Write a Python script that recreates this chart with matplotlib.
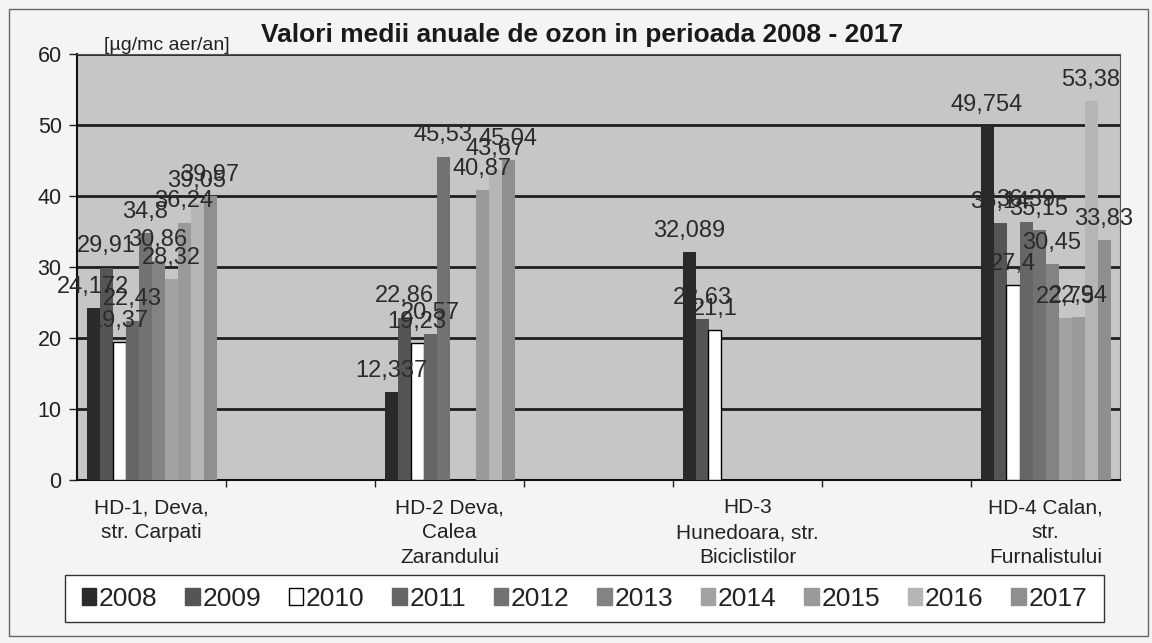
import numpy as np
import matplotlib
matplotlib.use("Agg")
import matplotlib.pyplot as plt
from matplotlib.patches import Patch, Rectangle

plt.rcParams['font.family'] = ['Liberation Sans', 'DejaVu Sans']

# ---- data ----
years = ["2008", "2009", "2010", "2011", "2012", "2013", "2014", "2015", "2016", "2017"]
categories = ["HD-1, Deva,\nstr. Carpati", "",
              "HD-2 Deva,\nCalea\nZarandului", "",
              "HD-3\nHunedoara, str.\nBiciclistilor", "",
              "HD-4 Calan,\nstr.\nFurnalistului"]
hd1 = [24.172, 29.91, 19.37, 22.43, 34.8, 30.86, 28.32, 36.24, 39.05, 39.97]
hd2 = [12.337, 22.86, 19.23, 20.57, 45.53, np.nan, np.nan, 40.87, 43.67, 45.04]
empty = [np.nan] * 10
hd3 = [32.089, 22.63, 21.1, np.nan, np.nan, np.nan, np.nan, np.nan, np.nan, np.nan]
hd4 = [49.754, 36.14, 27.4, 36.39, 35.15, 30.45, 22.75, 22.94, 53.38, 33.83]
stations = [hd1, empty, hd2, empty, hd3, empty, hd4]

colors = ['#2a2a2a', '#555555', '#ffffff', '#666666', '#727272',
          '#838383', '#a2a2a2', '#9a9a9a', '#b6b6b6', '#8f8f8f']

W, H = 1152, 643
fig = plt.figure(figsize=(W / 100, H / 100), dpi=100)
fig.patch.set_facecolor('#f4f4f4')

ax = fig.add_axes([77 / W, 1 - 480 / H, (1120 - 77) / W, (480 - 54) / H])
ax.set_facecolor('#c6c6c6')

x = np.arange(len(categories))
bw = 13 / 149
n = len(years)
for j, yr in enumerate(years):
    vals = np.array([st[j] for st in stations], dtype=float)
    xs = x + (j - (n - 1) / 2) * bw
    ec = 'black' if yr == "2010" else 'none'
    ax.bar(xs, vals, width=bw, color=colors[j], edgecolor=ec,
           linewidth=1.0 if yr == "2010" else 0, zorder=3)
    for xi, v in zip(xs, vals):
        if np.isnan(v):
            continue
        ax.annotate(repr(float(v)).replace('.', ','), (xi, v),
                    xytext=(0, 11), textcoords='offset points',
                    ha='center', va='baseline', fontsize=17,
                    color='#2b2b2b', zorder=5)

ax.set_ylim(0, 60)
ax.set_xlim(-0.5, len(categories) - 0.5)
ax.set_yticks(np.arange(0, 61, 10))
ax.tick_params(axis='y', labelsize=15.5, length=6, width=1, pad=5,
               colors='#222222')
ax.set_xticks(x)
ax.set_xticklabels(categories, fontsize=15, color='#222222', linespacing=1.4)
ax.tick_params(axis='x', length=0, pad=13)
ax.set_xticks(np.arange(0.5, len(categories) - 0.5, 1), minor=True)
ax.tick_params(axis='x', which='minor', length=5, width=1, color='#222222')

ax.yaxis.grid(True, color='#1e1e1e', linewidth=2)
ax.set_axisbelow(True)
for s in ['left', 'bottom']:
    ax.spines[s].set_color('#111111')
    ax.spines[s].set_linewidth(1.5)
for s in ['top', 'right']:
    ax.spines[s].set_color('#555555')
    ax.spines[s].set_linewidth(0.8)

fig.text(582 / W, 1 - 35 / H, "Valori medii anuale de ozon in perioada 2008 - 2017",
         ha='center', va='center', fontsize=19, fontweight='bold', color='#1a1a1a')
fig.text(104 / W, 1 - 46 / H, "[µg/mc aer/an]", ha='left', va='center',
         fontsize=14, color='#222222')

# legend frame drawn separately to match the wide box of the reference
fig.patches.append(Rectangle((65 / W, 1 - 622 / H), (1104 - 65) / W, (622 - 575) / H,
                             transform=fig.transFigure, facecolor='white',
                             edgecolor='#333333', linewidth=1.0, zorder=1))
handles = [Patch(facecolor=c, edgecolor=('black' if y == "2010" else c), linewidth=1)
           for c, y in zip(colors, years)]
leg = fig.legend(handles, years, loc='center', bbox_to_anchor=(584.5 / W, 1 - 598.5 / H),
                 ncol=10, fontsize=19, frameon=False,
                 handlelength=0.55, handleheight=0.6,
                 handletextpad=0.1, columnspacing=1.05, borderpad=0.3)
leg.set_zorder(3)
for t in leg.get_texts():
    t.set_color('#222222')

fig.patches.append(Rectangle((9 / W, 1 - 636 / H), (1148 - 9) / W, (636 - 9) / H,
                             transform=fig.transFigure, fill=False,
                             edgecolor='#666666', linewidth=1.0))

fig.savefig("out.png", dpi=100, facecolor=fig.get_facecolor())
